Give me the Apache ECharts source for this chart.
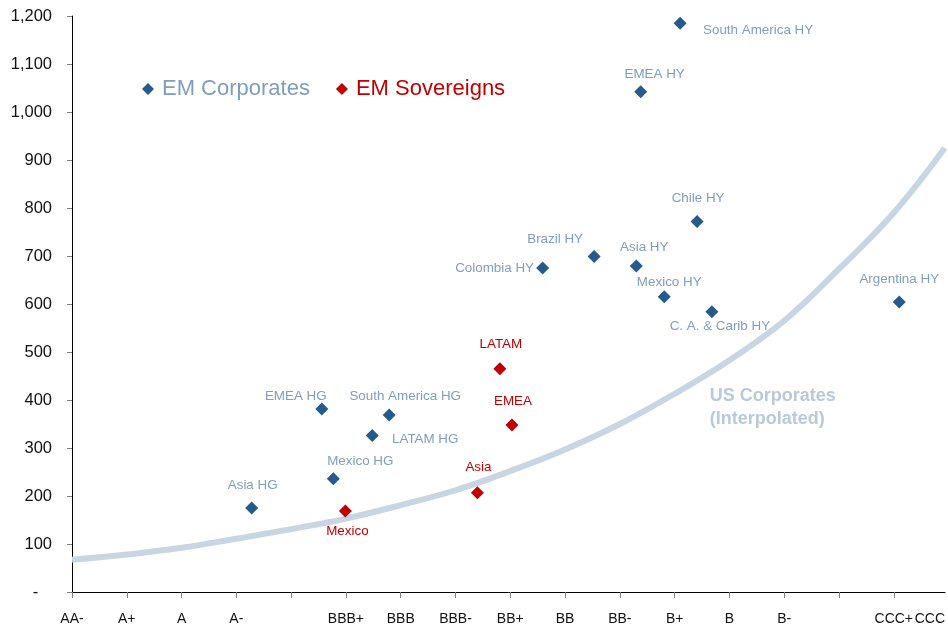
<!DOCTYPE html>
<html>
<head>
<meta charset="utf-8">
<title>EM spreads vs rating</title>
<script src="https://cdn.jsdelivr.net/npm/echarts@6/dist/echarts.min.js"></script>
<style>
  html, body { margin: 0; padding: 0; background: #fff; }
  #chart { width: 948px; height: 629px; }
</style>
</head>
<body>
<div id="chart"></div>
<script>
// rating scale on the x axis (blank slots are unlabeled ticks)
const ratingLabels = ['AA-', 'A+', 'A', 'A-', '', 'BBB+', 'BBB', 'BBB-', 'BB+', 'BB', 'BB-', 'B+', 'B', 'B-', '', 'CCC+', 'CCC'];

// EM corporates: name, rating position, spread (bp)
const corpNames = ['South America HY', 'EMEA HY', 'Chile HY', 'Brazil HY', 'Asia HY', 'Colombia HY', 'Mexico HY',
  'C. A. & Carib HY', 'Argentina HY', 'EMEA HG', 'South America HG', 'LATAM HG', 'Mexico HG', 'Asia HG'];
const corpRating = [11.10, 10.38, 11.41, 9.53, 10.30, 8.59, 10.81, 11.68, 15.10, 4.56, 5.79, 5.48, 4.77, 3.28];
const corpSpread = [1185, 1042, 772, 699, 679, 675, 615, 584, 604, 381, 369, 326, 236, 175];

// EM sovereigns
const sovNames = ['LATAM', 'EMEA', 'Asia', 'Mexico'];
const sovRating = [7.81, 8.03, 7.40, 4.99];
const sovSpread = [465, 348, 207, 169];

// US corporates curve (interpolated)
const curveRating = [0, 1, 2, 3, 4, 5, 6, 7, 8, 9, 10, 11, 12, 13, 14, 15, 15.93];
const curveSpread = [67, 78, 92, 111, 131, 153, 181, 212, 252, 297, 350, 413, 483, 565, 673, 790, 925];

// where each point's label sits relative to its marker (px)
const labelOffsets = {
  'South America HY': [78, 7], 'EMEA HY': [14, -18], 'Chile HY': [1, -23], 'Brazil HY': [-39, -17],
  'Asia HY': [8, -19], 'Colombia HY': [-48, 0], 'Mexico HY': [5, -14], 'C. A. & Carib HY': [8, 15],
  'Argentina HY': [0, -23], 'EMEA HG': [-26, -13], 'South America HG': [16, -19], 'LATAM HG': [53, 4],
  'Mexico HG': [27, -17], 'Asia HG': [1, -23],
  'LATAM': [1, -24], 'EMEA': [1, -24], 'Asia': [1, -25], 'Mexico': [2, 20]
};

const FONT = '"Liberation Sans", Arial, sans-serif';
const corpColor = '#255a8c';
const corpText = '#7f9dbd';
const sovColor = '#c00000';
const curveColor = '#c8d5e2';
const X_MAX = 15.935;

const tickValues = ratingLabels.slice(0, 16).map((_, i) => i);

function buildPoints(names, xs, ys) {
  return names.map((n, i) => ({
    name: n,
    value: [xs[i], ys[i]],
    label: { offset: labelOffsets[n] }
  }));
}

const chart = echarts.init(document.getElementById('chart'));

chart.setOption({
  animation: false,
  textStyle: { fontFamily: FONT },
  grid: { left: 72, right: 0, top: 16, bottom: 37 },
  legend: {
    left: 142,
    top: 77,
    padding: 0,
    itemWidth: 12,
    itemHeight: 12,
    itemGap: 26,
    icon: 'diamond',
    textStyle: { fontSize: 22, lineHeight: 24, fontFamily: FONT, padding: [0, 0, 0, 3] },
    data: [
      { name: 'EM Corporates', textStyle: { color: corpText } },
      { name: 'EM Sovereigns', textStyle: { color: sovColor } }
    ]
  },
  xAxis: {
    type: 'value',
    min: 0,
    max: X_MAX,
    interval: 1,
    splitLine: { show: false },
    axisLine: { lineStyle: { color: '#000', width: 1 } },
    axisTick: { show: true, length: 6, lineStyle: { color: '#808080' }, customValues: tickValues },
    axisLabel: {
      margin: 20,
      fontSize: 14,
      color: '#111',
      fontFamily: FONT,
      showMaxLabel: true,
      alignMaxLabel: 'right',
      customValues: tickValues.concat([X_MAX]),
      formatter: v => ratingLabels[Math.round(v)] || ''
    }
  },
  yAxis: {
    type: 'value',
    min: 0,
    max: 1200,
    interval: 100,
    splitLine: { show: false },
    axisLine: { show: true, lineStyle: { color: '#000', width: 1 } },
    axisTick: { show: true, length: 5, lineStyle: { color: '#808080' } },
    axisLabel: {
      margin: 20,
      fontSize: 16.5,
      color: '#111',
      fontFamily: FONT,
      formatter: v => v === 0 ? '-   ' : v.toLocaleString('en-US')
    }
  },
  series: [
    {
      name: 'US Corporates',
      type: 'line',
      smooth: 0.4,
      symbol: 'none',
      z: 1,
      lineStyle: { color: curveColor, width: 6 },
      data: curveRating.map((x, i) => [x, curveSpread[i]]),
      markPoint: {
        symbol: 'circle',
        symbolSize: 1,
        itemStyle: { color: 'rgba(0,0,0,0)' },
        label: {
          show: true,
          position: 'inside',
          align: 'left',
          verticalAlign: 'middle',
          formatter: 'US Corporates\n(Interpolated)',
          fontSize: 18,
          lineHeight: 23,
          fontWeight: 'bold',
          color: '#b8c9da',
          fontFamily: FONT
        },
        data: [{ coord: [11.64, 384] }]
      }
    },
    {
      name: 'EM Corporates',
      type: 'scatter',
      symbol: 'diamond',
      symbolSize: 13,
      z: 3,
      itemStyle: { color: corpColor, opacity: 1 },
      label: {
        show: true,
        position: 'inside',
        align: 'center',
        verticalAlign: 'middle',
        formatter: p => p.name,
        fontSize: 13.4,
        color: corpText,
        fontFamily: FONT
      },
      data: buildPoints(corpNames, corpRating, corpSpread)
    },
    {
      name: 'EM Sovereigns',
      type: 'scatter',
      symbol: 'diamond',
      symbolSize: 13,
      z: 3,
      itemStyle: { color: sovColor, opacity: 1 },
      label: {
        show: true,
        position: 'inside',
        align: 'center',
        verticalAlign: 'middle',
        formatter: p => p.name,
        fontSize: 13.4,
        color: sovColor,
        fontFamily: FONT
      },
      data: buildPoints(sovNames, sovRating, sovSpread)
    }
  ]
});
</script>
</body>
</html>
